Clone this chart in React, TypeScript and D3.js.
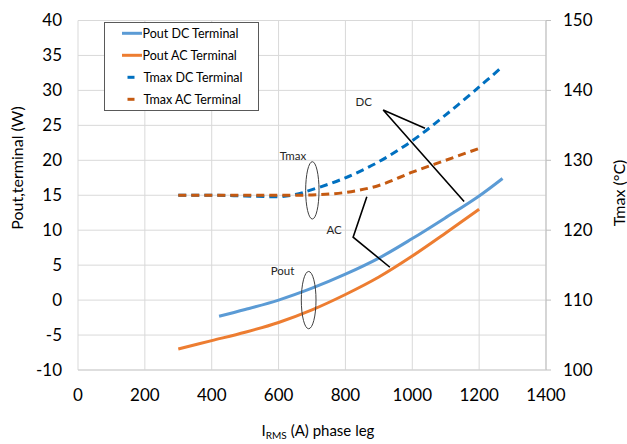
import React from "react";
import * as d3 from "d3";

// ---- data ----
const xPoutDC = [422, 500, 600, 700, 800, 900, 1000, 1100, 1200, 1270];
const poutDC = [-2.3, -1.35, 0.0, 1.7, 3.7, 6.0, 8.8, 11.8, 14.9, 17.4];
const xPoutAC = [300, 400, 500, 600, 700, 800, 900, 1000, 1100, 1200];
const poutAC = [-7.0, -5.8, -4.6, -3.2, -1.4, 0.8, 3.3, 6.3, 9.6, 13.0];
const xTmaxDC = [300, 400, 500, 600, 650, 700, 800, 900, 1000, 1100, 1200, 1265];
const tmaxDC = [125, 125, 124.9, 124.8, 125.1, 125.8, 127.5, 129.8, 132.8, 136.5, 140.5, 143.2];
const xTmaxAC = [300, 400, 500, 600, 700, 800, 900, 1000, 1100, 1200];
const tmaxAC = [125, 125, 125, 125, 125.05, 125.4, 126.4, 128.3, 130.0, 131.7];

const xTicks = [0, 200, 400, 600, 800, 1000, 1200, 1400];
const yLeftTicks = [-10, -5, 0, 5, 10, 15, 20, 25, 30, 35, 40];
const yRightTicks = [100, 110, 120, 130, 140, 150];

const seriesNames = ["Pout DC Terminal", "Pout AC Terminal", "Tmax DC Terminal", "Tmax AC Terminal"];
const seriesColors = ["#5b9bd5", "#ed7d31", "#0070c0", "#c55a11"];

// annotations (data coordinates)
const ellipses = [
  { x: 701, y: 15.7, rx: 20, ry: 4.1 },
  { x: 690, y: 0.0, rx: 22, ry: 4.1 },
];
const labels = [
  { text: "Tmax", x: 643, y: 20.6 },
  { text: "Pout", x: 612, y: 4.1 },
  { text: "AC", x: 766, y: 10.1 },
  { text: "DC", x: 855, y: 28.4 },
];
const acPointer = [[864, 14.8], [823, 9.0], [933, 4.7]];
const dcPointer = [[1038, 24.6], [913, 27.2], [1155, 14.1]];

const W = 627, H = 444;
const L = 78, R = 546, T = 20.5, B = 370;
const FONT = "Lato, 'Open Sans', sans-serif";

export default function App() {
  const x = d3.scaleLinear().domain([0, 1400]).range([L, R]);
  const y = d3.scaleLinear().domain([-10, 40]).range([B, T]);
  const y2 = d3.scaleLinear().domain([100, 150]).range([B, T]);

  const curve = d3.curveCatmullRom.alpha(0.5);
  const lineL = d3.line<[number, number]>().x(d => x(d[0])).y(d => y(d[1])).curve(curve);
  const lineR = d3.line<[number, number]>().x(d => x(d[0])).y(d => y2(d[1])).curve(curve);
  const straight = d3.line<number[]>().x(d => x(d[0])).y(d => y(d[1]));

  const zip = (a: number[], b: number[]) => a.map((v, i) => [v, b[i]] as [number, number]);

  const pxPerX = x(1) - x(0);
  const pxPerY = y(0) - y(1);

  return (
    <svg width={W} height={H} style={{ position: "absolute", left: 0, top: 0, background: "#fff" }} fontFamily={FONT}>
      <rect x={0} y={0} width={W} height={H} fill="#fff" />
      {/* grid */}
      {xTicks.map(t => (
        <line key={"gx" + t} x1={x(t)} x2={x(t)} y1={T} y2={B} stroke="#d9d9d9" strokeWidth={1} />
      ))}
      {yLeftTicks.map(t => (
        <line key={"gy" + t} x1={L} x2={R} y1={y(t)} y2={y(t)} stroke="#d9d9d9" strokeWidth={1} />
      ))}
      {/* right axis */}
      <line x1={R} x2={R} y1={T} y2={B} stroke="#bfbfbf" strokeWidth={1} />
      {yRightTicks.map(t => (
        <line key={"rt" + t} x1={R} x2={R + 5} y1={y2(t)} y2={y2(t)} stroke="#bfbfbf" strokeWidth={1} />
      ))}
      <line x1={L} x2={R} y1={B} y2={B} stroke="#d0d0d0" strokeWidth={1} />

      {/* tick labels */}
      {yLeftTicks.map(t => (
        <text key={"yl" + t} x={62} y={y(t)} dy="0.35em" textAnchor="end" fontSize={17} fill="#000">{t}</text>
      ))}
      {yRightTicks.map(t => (
        <text key={"yr" + t} x={563} y={y2(t)} dy="0.35em" textAnchor="start" fontSize={17} fill="#000">{t}</text>
      ))}
      {xTicks.map(t => (
        <text key={"xl" + t} x={x(t)} y={401} textAnchor="middle" fontSize={17} fill="#000">{t}</text>
      ))}

      {/* axis titles */}
      <text transform={`translate(23,168) rotate(-90)`} textAnchor="middle" fontSize={16} fill="#000">Pout,terminal (W)</text>
      <text transform={`translate(625,193) rotate(-90)`} textAnchor="middle" fontSize={16} fill="#000">Tmax (°C)</text>
      <text x={318} y={436} textAnchor="middle" fontSize={15} fill="#000">
        I<tspan fontSize={10} dy={3}>RMS</tspan><tspan dy={-3}> (A) phase leg</tspan>
      </text>

      {/* series */}
      <path d={lineL(zip(xPoutDC, poutDC)) || ""} fill="none" stroke={seriesColors[0]} strokeWidth={3} />
      <path d={lineL(zip(xPoutAC, poutAC)) || ""} fill="none" stroke={seriesColors[1]} strokeWidth={3} />
      <path d={lineR(zip(xTmaxDC, tmaxDC)) || ""} fill="none" stroke={seriesColors[2]} strokeWidth={3} strokeDasharray="8,5" />
      <path d={lineR(zip(xTmaxAC, tmaxAC)) || ""} fill="none" stroke={seriesColors[3]} strokeWidth={3} strokeDasharray="8,5" />

      {/* annotations */}
      {ellipses.map((e, i) => (
        <ellipse key={"el" + i} cx={x(e.x)} cy={y(e.y)} rx={e.rx * pxPerX} ry={e.ry * pxPerY} fill="none" stroke="#404040" strokeWidth={1} />
      ))}
      <path d={straight(acPointer) || ""} fill="none" stroke="#000" strokeWidth={1.6} />
      <path d={straight(dcPointer) || ""} fill="none" stroke="#000" strokeWidth={1.6} />
      {labels.map(l => (
        <text key={l.text} x={x(l.x)} y={y(l.y)} dy="0.35em" textAnchor="middle" fontSize={11.5} fill="#262626">{l.text}</text>
      ))}

      {/* legend */}
      <rect x={104.5} y={22.5} width={154} height={88} fill="#fff" stroke="#595959" strokeWidth={1} />
      {seriesNames.map((n, i) => {
        const cy = 33.3 + i * 22;
        const dashed = i >= 2;
        return (
          <g key={n}>
            {dashed ? (
              <line x1={127.5} x2={134.5} y1={cy} y2={cy} stroke={seriesColors[i]} strokeWidth={3} />
            ) : (
              <line x1={122} x2={142} y1={cy} y2={cy} stroke={seriesColors[i]} strokeWidth={3} />
            )}
            <text x={dashed ? 143.5 : 142.5} y={cy} dy="0.35em" fontSize={12.5} fill="#000">{n}</text>
          </g>
        );
      })}
    </svg>
  );
}
